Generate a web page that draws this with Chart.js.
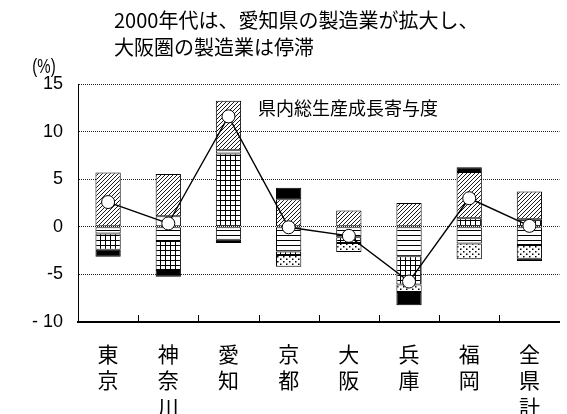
<!DOCTYPE html>
<html>
<head>
<meta charset="utf-8">
<script src="https://cdn.jsdelivr.net/npm/chart.js@4"></script>
<style>
  html, body { margin: 0; padding: 0; background: #fff; }
  #growthChart { display: block; }
</style>
</head>
<body>
<canvas id="growthChart" width="567" height="414"></canvas>
<script>
// prefectures, one character per line
var prefectures = [['東','京'], ['神','奈','川'], ['愛','知'], ['京','都'], ['大','阪'], ['兵','庫'], ['福','岡'], ['全','県','計']];

// contribution to growth by industry (%pt)
var wholesale    = [-0.7, -1.5, -1.35, -2.6, -1.1, -3.1, -1.75, -1.9];
var manufacture  = [-1.7, -3.05, 7.7, -0.35, -0.6, -2.95, 0.9, 0.8];
var realEstate   = [null, 1.1, 0.35, null, null, null, null, null];
var construction = [null, null, null, -1.25, -0.95, -0.8, -1.65, -1.45];
var services     = [5.7, 4.45, 5.2, 2.9, 1.7, 2.5, 4.85, 2.9];
var others       = [-0.75, -0.7, -0.35, 1.2, null, -1.4, 0.5, -0.25];

// gross prefectural product growth (%)
var totalGrowth  = [2.6, 0.35, 11.6, -0.05, -0.95, -5.75, 3.0, 0.1];

var yTicks = [-10, -5, 0, 5, 10, 15];

Chart.defaults.font.family = '"Liberation Sans", "Noto Sans CJK JP", sans-serif';
Chart.defaults.color = '#000';

// small tiles used as bar fills
function makePattern(w, h, draw) {
  var c = document.createElement('canvas');
  c.width = w; c.height = h;
  var g = c.getContext('2d');
  g.fillStyle = '#fff';
  g.fillRect(0, 0, w, h);
  g.fillStyle = '#000';
  g.strokeStyle = '#000';
  draw(g, w, h);
  return g.createPattern(c, 'repeat');
}

var hatchFill = makePattern(4, 4, function(g, w, h) {
  g.lineWidth = 0.9;
  g.beginPath();
  g.moveTo(0, h); g.lineTo(w, 0);
  g.moveTo(-1, 1); g.lineTo(1, -1);
  g.moveTo(w - 1, h + 1); g.lineTo(w + 1, h - 1);
  g.stroke();
});
var gridFill = makePattern(5, 5, function(g) {
  g.fillRect(0, 0, 5, 1);
  g.fillRect(0, 0, 1, 5);
});
var lineFill = makePattern(4, 5, function(g) {
  g.fillRect(0, 0, 4, 1);
});
var dotFill = makePattern(6, 5, function(g) {
  g.fillRect(1, 1, 1.5, 1.5);
  g.fillRect(4, 3.5, 1.5, 1.5);
});

function barSet(label, values, fill) {
  return {
    type: 'bar',
    label: label,
    data: values,
    backgroundColor: fill,
    borderColor: '#000',
    borderWidth: 1,
    borderSkipped: false,
    stack: 'parts',
    order: 1,
    barPercentage: 0.42,
    categoryPercentage: 1
  };
}

// titles, the (%) unit and the upward category ticks
var decorPlugin = {
  id: 'decor',
  afterDraw: function(chart) {
    var ctx = chart.ctx;
    var area = chart.chartArea;
    var x = chart.scales.x;
    ctx.save();
    ctx.strokeStyle = '#000';
    ctx.lineWidth = 1;
    for (var i = 1; i < prefectures.length; i++) {
      var px = Math.round((x.getPixelForValue(i - 1) + x.getPixelForValue(i)) / 2) + 0.5;
      ctx.beginPath();
      ctx.moveTo(px, area.bottom);
      ctx.lineTo(px, area.bottom - 7);
      ctx.stroke();
    }

    ctx.fillStyle = '#000';
    ctx.textBaseline = 'middle';
    ctx.textAlign = 'left';
    ctx.font = '20px "Noto Sans CJK JP", sans-serif';
    ctx.fillText('2000年代は、愛知県の製造業が拡大し、', 114, 20);
    ctx.fillText('大阪圏の製造業は停滞', 114, 47);

    ctx.font = '18px "Noto Sans CJK JP", sans-serif';
    ctx.fillText('県内総生産成長寄与度', 258, 108);

    ctx.textAlign = 'center';
    ctx.save();
    ctx.translate(44, 68);
    ctx.scale(1, 1.3);
    ctx.font = '15px "Liberation Sans", sans-serif';
    ctx.fillText('(%)', 0, 0);
    ctx.restore();
    ctx.restore();
  }
};

var ctx = document.getElementById('growthChart');
var growthChart = new Chart(ctx, {
  data: {
    labels: prefectures,
    datasets: [
      barSet('卸売・小売業', wholesale, lineFill),
      barSet('製造業', manufacture, gridFill),
      barSet('不動産業', realEstate, '#fff'),
      barSet('建設業', construction, dotFill),
      barSet('サービス業', services, hatchFill),
      barSet('その他', others, '#000'),
      {
        type: 'line',
        label: '県内総生産成長率',
        data: totalGrowth,
        borderColor: '#000',
        borderWidth: 1.4,
        pointRadius: 6.5,
        pointBackgroundColor: '#fff',
        pointBorderColor: '#000',
        pointBorderWidth: 1,
        stack: 'total',
        order: 0
      }
    ]
  },
  options: {
    responsive: false,
    animation: false,
    layout: { padding: { top: 84, right: 1, left: 0, bottom: 0 } },
    plugins: {
      legend: { display: false },
      tooltip: { enabled: false }
    },
    scales: {
      x: {
        stacked: true,
        grid: { drawOnChartArea: false, drawTicks: false },
        border: { display: true, color: '#000', width: 2 },
        ticks: {
          padding: 19,
          maxRotation: 0,
          autoSkip: false,
          font: { size: 21, family: '"Noto Sans CJK JP", sans-serif', lineHeight: 1.25 }
        },
        afterFit: function(scale) { scale.height = 92; }
      },
      y: {
        stacked: true,
        min: -10,
        max: 15,
        afterBuildTicks: function(scale) {
          scale.ticks = yTicks.map(function(v) { return { value: v }; });
        },
        grid: { color: '#222', lineWidth: 1, drawTicks: false },
        // dotted grid lines, solid axis line
        border: { display: true, color: '#000', width: 1, dash: [1, 1] },
        ticks: {
          padding: 15,
          font: { size: 18 },
          callback: function(v) { return v < -9 ? '- 10' : String(v); }
        },
        afterFit: function(scale) { scale.width = 78; }
      }
    }
  },
  plugins: [decorPlugin]
});
</script>
</body>
</html>
